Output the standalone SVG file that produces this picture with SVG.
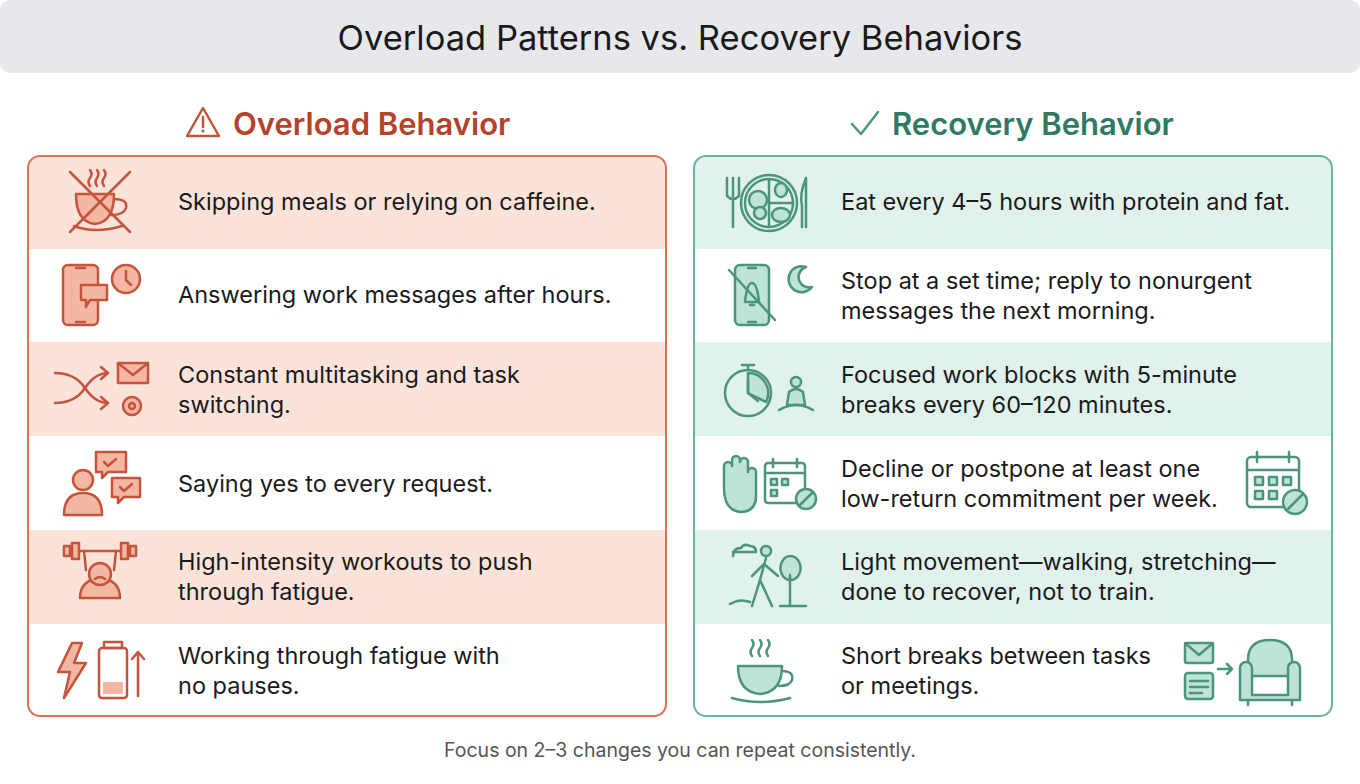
<svg xmlns="http://www.w3.org/2000/svg" width="1360" height="784" viewBox="0 0 1360 784">
<style>
text{font-family:Inter,"Liberation Sans",sans-serif}
.t{font-size:23.5px;fill:#1a1a1a}
.o{fill:none;stroke:#c4553c;stroke-width:2.5;stroke-linecap:round;stroke-linejoin:round}
.of{fill:#f4b7a4;stroke:#c4553c;stroke-width:2.5;stroke-linejoin:round}
.g{fill:none;stroke:#4a957c;stroke-width:2.5;stroke-linecap:round;stroke-linejoin:round}
.gf{fill:#bfe3d6;stroke:#4a957c;stroke-width:2.5;stroke-linejoin:round}
</style>
<rect x="0" y="0" width="1360" height="73" rx="10" fill="#e6e8eb"/>
<text x="680" y="50" text-anchor="middle" font-size="34.5" fill="#1a1a1a">Overload Patterns vs. Recovery Behaviors</text>

<g id="left-header">
<path class="o" d="M203 108 L219 136 L187 136 Z" stroke-width="2.8"/>
<line x1="203" y1="117" x2="203" y2="127" class="o" stroke-width="3"/><circle cx="203" cy="131" r="1.6" fill="#c4553c"/>
<text x="233" y="135" font-size="31" font-weight="600" fill="#b5422a">Overload Behavior</text>
</g>
<g id="right-header">
<path class="g" d="M852 124 L861 134 L878 112" stroke-width="3" stroke="#2f7a62"/>
<text x="892" y="135" font-size="31" font-weight="600" fill="#2f7a62">Recovery Behavior</text>
</g>

<g id="left-panel">
<clipPath id="cl"><rect x="28" y="156" width="638" height="560" rx="12"/></clipPath>
<g clip-path="url(#cl)">
<rect x="28" y="156" width="638" height="560" fill="#fff"/>
<rect x="28" y="156" width="638" height="93" fill="#fbe3da"/>
<rect x="28" y="342" width="638" height="94" fill="#fbe3da"/>
<rect x="28" y="530" width="638" height="94" fill="#fbe3da"/>
</g>
<rect x="28" y="156" width="638" height="560" rx="12" fill="none" stroke="#d9725a" stroke-width="2"/>
</g>
<g id="right-panel">
<clipPath id="cr"><rect x="694" y="156" width="638" height="560" rx="12"/></clipPath>
<g clip-path="url(#cr)">
<rect x="694" y="156" width="638" height="560" fill="#fff"/>
<rect x="694" y="156" width="638" height="93" fill="#e1f1ec"/>
<rect x="694" y="342" width="638" height="94" fill="#e1f1ec"/>
<rect x="694" y="530" width="638" height="94" fill="#e1f1ec"/>
</g>
<rect x="694" y="156" width="638" height="560" rx="12" fill="none" stroke="#6bb39a" stroke-width="2"/>
</g>

<g id="o1">
<path class="of" d="M76 194 H114 Q114 222 95 224 Q76 222 76 194 Z"/>
<path class="o" d="M114 199 Q128 199 126 208 Q124 215 111 215"/>
<path class="o" d="M74 226 Q95 234 122 226" />
<path class="o" d="M90 186 q-3 -4 0 -8 q3 -4 0 -8 M97 186 q-3 -4 0 -8 q3 -4 0 -8 M104 186 q-3 -4 0 -8 q3 -4 0 -8"/>
<line x1="70" y1="172" x2="130" y2="232" class="o"/><line x1="130" y1="172" x2="70" y2="232" class="o"/>
<text class="t" x="178" y="210">Skipping meals or relying on caffeine.</text>
</g>
<g id="o2">
<rect class="of" x="63" y="265" width="35" height="60" rx="5" fill="#fbe3da"/>
<line class="o" x1="76" y1="268" x2="85" y2="268"/><line class="o" x1="76" y1="322" x2="85" y2="322"/>
<path class="of" d="M81 285 H107 V300 H90 L86 307 V300 H81 Z"/>
<circle class="of" cx="126" cy="279" r="14"/><path class="o" d="M126 271 V280 L131 285"/>
<text class="t" x="178" y="303">Answering work messages after hours.</text>
</g>
<g id="o3">
<path class="o" d="M55 373 Q75 373 85 388 Q95 403 108 403 M55 403 Q75 403 85 388 Q95 373 108 373 M101 367 L108 373 L101 379 M101 397 L108 403 L101 409"/>
<rect class="of" x="118" y="363" width="30" height="20"/><path class="o" d="M118 363 L133 375 L148 363"/>
<circle class="of" cx="132" cy="406" r="9"/><circle cx="132" cy="406" r="3" class="o"/>
<text class="t" x="178" y="383">Constant multitasking and task</text>
<text class="t" x="178" y="413">switching.</text>
</g>
<g id="o4">
<circle class="of" cx="83" cy="480" r="10"/>
<path class="of" d="M64 515 Q64 493 83 493 Q102 493 102 515 Z"/>
<path class="of" d="M96 452 H126 V472 H108 L102 478 V472 H96 Z"/><path class="o" d="M104 462 l4 4 l8 -7"/>
<path class="of" d="M112 478 H140 V497 H124 L118 503 V497 H112 Z"/><path class="o" d="M120 487 l4 4 l8 -7"/>
<text class="t" x="178" y="492">Saying yes to every request.</text>
</g>
<g id="o5">
<line class="o" x1="66" y1="551" x2="136" y2="551"/>
<rect class="of" x="72" y="543" width="7" height="16"/><rect class="of" x="121" y="543" width="7" height="16"/>
<rect class="of" x="64" y="546" width="6" height="10"/><rect class="of" x="130" y="546" width="6" height="10"/>
<path class="o" d="M84 551 L86 570 M116 551 L114 570"/>
<path class="of" d="M80 598 Q80 580 100 578 Q120 580 120 598 Z"/>
<circle class="of" cx="100" cy="574" r="11"/>
<path class="o" d="M95 579 q5 -4 10 0"/>
<text class="t" x="178" y="570">High-intensity workouts to push</text>
<text class="t" x="178" y="600">through fatigue.</text>
</g>
<g id="o6">
<path class="of" d="M72 643 L58 672 H70 L64 698 L86 663 H74 L82 643 Z"/>
<rect class="o" x="99" y="648" width="28" height="50" rx="3"/><rect x="104" y="642" width="18" height="6" class="o"/>
<rect x="103" y="682" width="20" height="12" fill="#f4b7a4"/>
<path class="o" d="M138 696 V652 M132 659 L138 652 L144 659"/>
<text class="t" x="178" y="664">Working through fatigue with</text>
<text class="t" x="178" y="694">no pauses.</text>
</g>

<g id="r1">
<path class="g" d="M727 178 V196 M733 178 V196 M739 178 V196 M727 196 Q733 202 739 196 M733 198 V227"/>
<circle class="g" cx="769" cy="203" r="28"/><circle class="g" cx="769" cy="203" r="24"/>
<path class="g" d="M769 179 V227 M769 203 H793"/>
<circle class="gf" cx="758" cy="200" r="9"/><circle class="gf" cx="760" cy="213" r="6"/>
<ellipse class="gf" cx="781" cy="190" rx="6" ry="7"/><ellipse class="gf" cx="781" cy="215" rx="9" ry="7"/>
<path class="g" d="M806 178 Q799 195 802 206 V227 M806 178 V227"/>
<text class="t" x="841" y="210">Eat every 4–5 hours with protein and fat.</text>
</g>
<g id="r2">
<rect class="gf" x="735" y="265" width="34" height="60" rx="5" fill="#e1f1ec"/>
<line class="g" x1="748" y1="268" x2="756" y2="268"/><line class="g" x1="748" y1="322" x2="756" y2="322"/>
<path class="g" d="M745 302 Q747 283 752 283 Q757 283 759 302 Z M750 305 h4"/>
<line class="g" x1="729" y1="270" x2="775" y2="320"/>
<path class="gf" d="M806 267 A13 13 0 1 0 812 287 A10 10 0 0 1 806 267 Z"/>
<text class="t" x="841" y="289">Stop at a set time; reply to nonurgent</text>
<text class="t" x="841" y="319">messages the next morning.</text>
</g>
<g id="r3">
<circle class="g" cx="748" cy="393" r="23"/><path class="gf" d="M748 393 V373 A20 20 0 0 1 766 402 Z" stroke="none"/>
<path class="g" d="M742 365 h12 M748 365 V370 M748 380 V393 L758 401"/>
<circle class="gf" cx="796" cy="382" r="5"/>
<path class="gf" d="M789 392 Q796 386 803 392 L805 405 H787 Z"/>
<path class="g" d="M779 410 Q796 400 813 410"/>
<text class="t" x="841" y="383">Focused work blocks with 5-minute</text>
<text class="t" x="841" y="413">breaks every 60–120 minutes.</text>
</g>
<g id="r4">
<path class="gf" d="M724 488 V466 a4 4 0 0 1 8 0 V460 a4 4 0 0 1 8 0 V462 a4 4 0 0 1 8 0 V472 a4 4 0 0 1 8 0 V496 Q756 512 740 512 Q724 510 724 488 Z"/>
<rect class="g" x="765" y="463" width="40" height="40" rx="3"/><line class="g" x1="765" y1="473" x2="805" y2="473"/>
<path class="g" d="M773 459 v8 M797 459 v8"/>
<rect class="gf" x="771" y="479" width="6" height="6"/><rect class="gf" x="782" y="479" width="6" height="6"/><rect class="gf" x="771" y="490" width="6" height="6"/>
<circle class="gf" cx="806" cy="499" r="10"/><line class="g" x1="800" y1="505" x2="812" y2="493"/>
<text class="t" x="841" y="477">Decline or postpone at least one</text>
<text class="t" x="841" y="507">low-return commitment per week.</text>
<rect class="g" x="1247" y="457" width="52" height="50" rx="4"/><line class="g" x1="1247" y1="470" x2="1299" y2="470"/>
<path class="g" d="M1257 452 v10 M1289 452 v10"/>
<rect class="gf" x="1255" y="477" width="8" height="8"/><rect class="gf" x="1269" y="477" width="8" height="8"/><rect class="gf" x="1283" y="477" width="8" height="8"/><rect class="gf" x="1255" y="491" width="8" height="8"/><rect class="gf" x="1269" y="491" width="8" height="8"/>
<circle class="gf" cx="1295" cy="502" r="12"/><line class="g" x1="1288" y1="509" x2="1302" y2="495"/>
</g>
<g id="r5">
<path class="g" d="M733 556 q0 -8 8 -8 q3 -5 9 -2 q6 0 6 6 h-23"/>
<circle class="gf" cx="766" cy="551" r="5"/>
<path class="g" d="M766 558 L760 580 L752 606 M760 580 L772 606 M764 564 L752 576 M764 564 L778 576"/>
<path class="gf" d="M790 580 a10 12 0 1 1 1 0 Z"/><path class="g" d="M790 575 V605"/>
<path class="g" d="M730 604 q10 -6 20 -2 M780 606 h26"/>
<text class="t" x="841" y="570">Light movement—walking, stretching—</text>
<text class="t" x="841" y="600">done to recover, not to train.</text>
</g>
<g id="r6">
<path class="gf" d="M738 666 H782 Q782 692 760 694 Q738 692 738 666 Z"/>
<path class="g" d="M782 671 Q794 671 792 680 Q790 686 779 686"/>
<path class="g" d="M732 698 Q760 706 790 698"/>
<path class="g" d="M752 656 q-3 -4 0 -8 q3 -4 0 -8 M760 656 q-3 -4 0 -8 q3 -4 0 -8 M768 656 q-3 -4 0 -8 q3 -4 0 -8"/>
<text class="t" x="841" y="664">Short breaks between tasks</text>
<text class="t" x="841" y="694">or meetings.</text>
<rect class="gf" x="1185" y="643" width="28" height="20" rx="2"/><path class="g" d="M1185 643 L1199 655 L1213 643"/>
<rect class="gf" x="1185" y="673" width="28" height="26" rx="3"/><path class="g" d="M1190 681 h18 M1190 687 h18 M1190 693 h12"/>
<path class="g" d="M1218 669 H1232 M1227 664 L1232 669 L1227 674"/>
<path class="gf" d="M1248 660 Q1248 640 1270 640 Q1292 640 1292 660 V676 H1248 Z"/>
<path class="gf" d="M1240 668 a6 6 0 0 1 12 0 V695 H1288 V668 a6 6 0 0 1 12 0 V700 H1240 Z"/>
<path class="g" d="M1248 700 v5 M1292 700 v5"/>
</g>

<text x="680" y="757" text-anchor="middle" font-size="19.5" fill="#555">Focus on 2–3 changes you can repeat consistently.</text>
</svg>
